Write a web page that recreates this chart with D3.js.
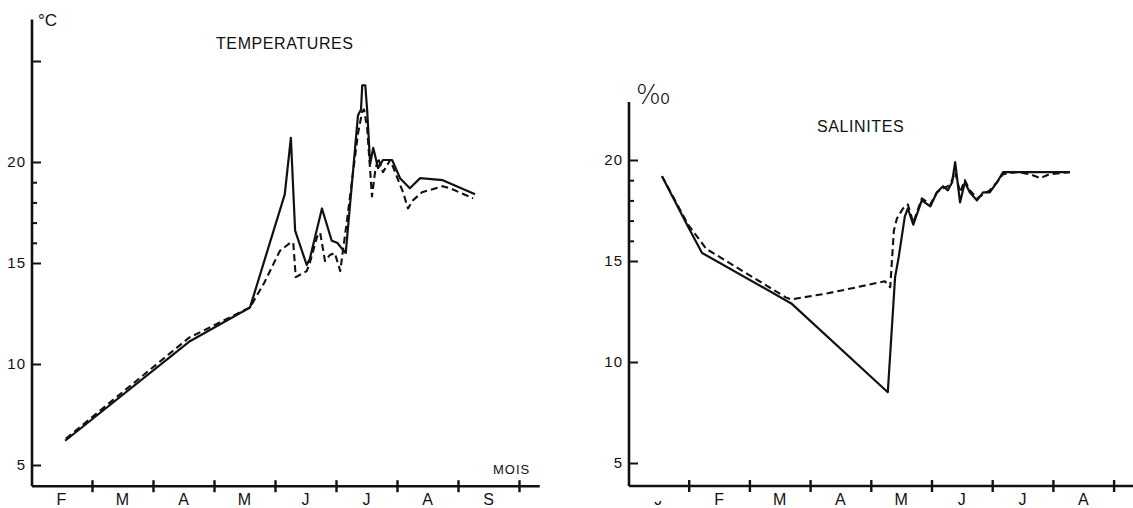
<!DOCTYPE html>
<html>
<head>
<meta charset="utf-8">
<script src="https://cdn.jsdelivr.net/npm/d3@7"></script>
<style>
  body { margin: 0; background: #fff; }
  svg text { font-family: "Liberation Sans", Arial, sans-serif; fill: #111; }
</style>
</head>
<body>
<div id="chart"></div>
<script>
// Month labels
var monthsTemp = ["F", "M", "A", "M", "J", "J", "A", "S"];
var monthsSal = ["J", "F", "M", "A", "M", "J", "J", "A"];

// Temperatures (x = months since 1 Feb, y = °C)
var tempSolidX = [0.56, 2.59, 3.59, 4.16, 4.26, 4.33, 4.52, 4.57, 4.77, 4.93, 5.02, 5.10, 5.16, 5.36, 5.41, 5.43, 5.48, 5.51, 5.56, 5.61, 5.69, 5.77, 5.92, 6.05, 6.21, 6.38, 6.75, 7.28];
var tempSolidY = [6.2, 11.1, 12.8, 18.4, 21.2, 16.6, 14.9, 15.2, 17.7, 16.1, 16.0, 15.7, 15.5, 22.3, 22.6, 23.8, 23.8, 22.6, 19.9, 20.7, 19.7, 20.1, 20.1, 19.2, 18.7, 19.2, 19.1, 18.4];
var tempDashX = [0.57, 2.59, 3.59, 3.82, 4.08, 4.25, 4.30, 4.34, 4.52, 4.57, 4.69, 4.74, 4.82, 4.90, 4.98, 5.07, 5.10, 5.18, 5.36, 5.43, 5.46, 5.51, 5.59, 5.64, 5.69, 5.77, 5.89, 6.02, 6.10, 6.18, 6.26, 6.41, 6.75, 6.87, 7.25];
var tempDashY = [6.3, 11.3, 12.8, 14.0, 15.6, 16.0, 16.0, 14.3, 14.6, 15.0, 16.3, 16.5, 15.1, 15.4, 15.5, 14.6, 15.3, 17.1, 21.4, 22.5, 22.6, 21.7, 18.3, 19.5, 20.2, 19.5, 20.1, 19.1, 18.5, 17.7, 18.1, 18.5, 18.8, 18.7, 18.2];

// Salinites (x = months since 1 Jan, y = ‰)
var salSolidX = [0.56, 0.99, 1.22, 2.69, 4.28, 4.40, 4.46, 4.56, 4.61, 4.70, 4.84, 4.98, 5.09, 5.19, 5.27, 5.34, 5.39, 5.47, 5.55, 5.63, 5.75, 5.85, 5.96, 6.08, 6.18, 6.41, 7.28];
var salSolidY = [19.2, 16.7, 15.4, 12.9, 8.5, 14.2, 15.2, 17.2, 17.6, 16.8, 18.0, 17.7, 18.4, 18.7, 18.5, 18.9, 19.9, 17.9, 18.9, 18.4, 18.0, 18.4, 18.4, 18.9, 19.4, 19.4, 19.4];
var salDashX = [0.56, 0.99, 1.29, 2.60, 2.69, 3.29, 3.77, 4.23, 4.32, 4.38, 4.43, 4.53, 4.61, 4.70, 4.84, 4.98, 5.09, 5.19, 5.27, 5.34, 5.39, 5.47, 5.55, 5.63, 5.75, 5.85, 5.96, 6.08, 6.18, 6.41, 6.62, 6.79, 6.95, 7.28];
var salDashY = [19.2, 16.8, 15.6, 13.2, 13.1, 13.4, 13.7, 14.0, 13.7, 16.5, 17.1, 17.6, 17.8, 16.9, 18.1, 17.8, 18.4, 18.6, 18.7, 19.0, 19.4, 18.4, 19.0, 18.5, 18.1, 18.3, 18.5, 18.9, 19.3, 19.4, 19.3, 19.1, 19.3, 19.4];

var svgWidth = 1133;
var svgHeight = 508;

var svg = d3.select("#chart")
  .append("svg")
  .attr("width", svgWidth)
  .attr("height", svgHeight);

// clip for the half-erased first label on the right chart
svg.append("clipPath").attr("id", "jclip")
  .append("rect").attr("x", 0).attr("y", 501).attr("width", svgWidth).attr("height", 20);

function zip(xs, ys) {
  return xs.map(function(x, i) { return [x, ys[i]]; });
}

function drawPanel(opt) {
  var x = d3.scaleLinear().domain([0, 8]).range(opt.xRange);
  var y = d3.scaleLinear().domain([5, 20]).range(opt.yRange);
  var g = svg.append("g");

  var x0 = x(0) + 1;
  var yBottom = y(opt.yMin);

  // axis lines
  g.append("line")
    .attr("x1", x0).attr("x2", x0)
    .attr("y1", y(opt.yMax)).attr("y2", yBottom)
    .attr("stroke", "#111").attr("stroke-width", 2.6);
  g.append("line")
    .attr("x1", x0).attr("x2", x(opt.xMax))
    .attr("y1", yBottom).attr("y2", yBottom)
    .attr("stroke", "#111").attr("stroke-width", 2.6);

  // y ticks
  var major = g.append("g")
    .attr("transform", `translate(${x0},0)`)
    .call(d3.axisLeft(y).tickValues(opt.majorTicks).tickSize(-9).tickPadding(6)
      .tickFormat(function(d) { return opt.labelled.indexOf(d) >= 0 ? d : ""; }));
  major.select(".domain").remove();
  major.selectAll("line").attr("stroke", "#111").attr("stroke-width", 2);
  major.selectAll("text")
    .style("font-size", "15px")
    .style("letter-spacing", "1px")
    .attr("fill", "#111");

  var minor = g.append("g")
    .attr("transform", `translate(${x0},0)`)
    .call(d3.axisLeft(y).tickValues([16, 17, 18, 19]).tickSize(-5).tickFormat(""));
  minor.select(".domain").remove();
  minor.selectAll("line").attr("stroke", "#111").attr("stroke-width", 2);

  // x ticks (cross the axis)
  var xt = g.append("g")
    .attr("transform", `translate(0,${yBottom})`)
    .call(d3.axisBottom(x).tickValues(d3.range(1, 9)).tickSize(6).tickFormat(""));
  xt.select(".domain").remove();
  xt.selectAll("line").attr("y1", -6).attr("stroke", "#111").attr("stroke-width", 2.4);

  // month labels
  g.selectAll(".month")
    .data(opt.months)
    .enter()
    .append("text")
    .attr("class", "month")
    .attr("x", function(d, i) { return x(i + 0.5); })
    .attr("y", 505)
    .attr("text-anchor", "middle")
    .style("font-size", "16px")
    .attr("clip-path", function(d, i) { return (opt.clipFirst && i === 0) ? "url(#jclip)" : null; })
    .text(function(d) { return d; });

  // series
  var line = d3.line()
    .x(function(d) { return x(d[0]); })
    .y(function(d) { return y(d[1]); });

  g.append("path")
    .datum(opt.dashed)
    .attr("d", line)
    .attr("fill", "none")
    .attr("stroke", "#111")
    .attr("stroke-width", 2.1)
    .attr("stroke-dasharray", "7,4")
    .attr("stroke-linejoin", "round");

  g.append("path")
    .datum(opt.solid)
    .attr("d", line)
    .attr("fill", "none")
    .attr("stroke", "#111")
    .attr("stroke-width", 2.2)
    .attr("stroke-linejoin", "round");

  // unit + title
  g.append("text")
    .attr("x", opt.unitX).attr("y", opt.unitY)
    .style("font-size", opt.unitSize)
    .style("font-family", opt.unitFont || null)
    .style("font-weight", opt.unitWeight || null)
    .text(opt.unit);
  g.append("text")
    .attr("x", opt.titleX).attr("y", opt.titleY)
    .style("font-size", "16px")
    .style("letter-spacing", "0.6px")
    .text(opt.title);

  return g;
}

// Left panel: temperatures
var left = drawPanel({
  xRange: [31, 31 + 61 * 8],
  yRange: [465, 465 - 20.2 * 15],
  yMin: 3.95, yMax: 27.05, xMax: 8.34,
  majorTicks: [5, 10, 15, 20, 25], labelled: [5, 10, 15, 20],
  months: monthsTemp,
  solid: zip(tempSolidX, tempSolidY),
  dashed: zip(tempDashX, tempDashY),
  unit: "°C", unitX: 38, unitY: 26, unitSize: "17px",
  title: "TEMPERATURES", titleX: 216, titleY: 49
});

left.append("text")
  .attr("x", 493).attr("y", 474)
  .style("font-size", "13px")
  .style("letter-spacing", "1px")
  .text("MOIS");

// Right panel: salinites
drawPanel({
  xRange: [628, 628 + 60.7 * 8],
  yRange: [463, 463 - 20.2 * 15],
  yMin: 3.86, yMax: 22.87, xMax: 8.33,
  majorTicks: [5, 10, 15, 20], labelled: [5, 10, 15, 20],
  months: monthsSal,
  clipFirst: true,
  solid: zip(salSolidX, salSolidY),
  dashed: zip(salDashX, salDashY),
  unit: "‰", unitX: 636, unitY: 104, unitSize: "26px",
  unitFont: "'DejaVu Sans', sans-serif", unitWeight: 200,
  title: "SALINITES", titleX: 817, titleY: 132
});
</script>
</body>
</html>
